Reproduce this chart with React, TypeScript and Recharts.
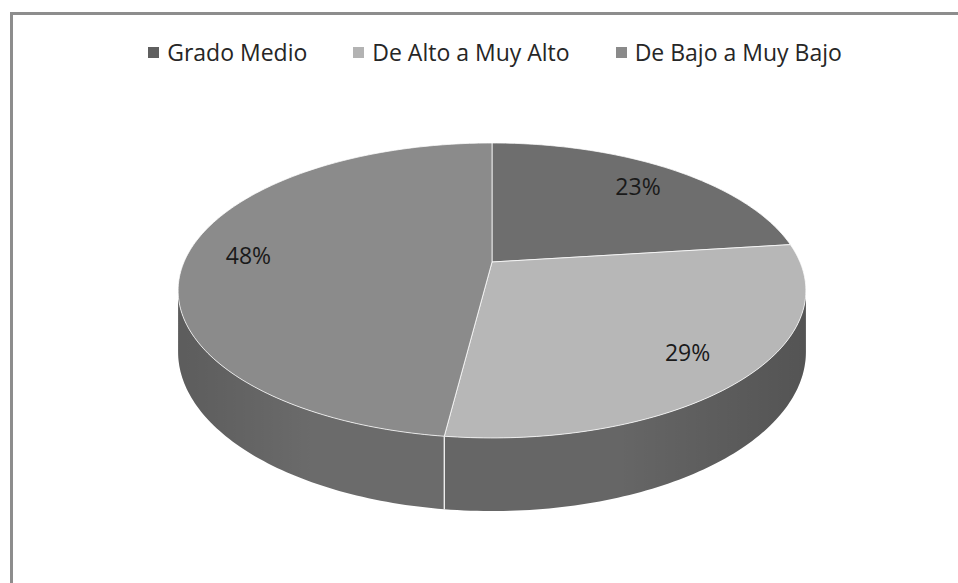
import { Cell, Legend, Pie, PieChart } from "recharts";

const categories = ["Grado Medio", "De Alto a Muy Alto", "De Bajo a Muy Bajo"];
const shares = [23, 29, 48];
const topColors = ["#6e6e6e", "#b7b7b7", "#8b8b8b"];
const sideColors = ["#5c5c5c", "#666666", "#6b6b6b"];
const legendColors = ["#5f5f5f", "#b3b3b3", "#8a8a8a"];

const data = categories.map((name, i) => ({ name, value: shares[i] }));

const WIDTH = 958;
const HEIGHT = 583;
const CX = 492;
const CY = 262;
const RADIUS = 308;
// fake 3d: vertical squash, perspective strength, wall height
const TILT = 0.461;
const PERSP = 0.193;
const DEPTH = 59;
const FONT = '"Open Sans", sans-serif';

const project = (cx: number, cy: number, R: number, theta: number, r = 1, drop = 0) => {
  const t = (theta * Math.PI) / 180;
  const u = r * Math.sin(t);
  const v = -r * Math.cos(t);
  const w = 1 - PERSP * v;
  return [cx + (R * u) / w, cy + (R * TILT * v + drop) / w];
};

const arc = (cx: number, cy: number, R: number, a: number, b: number, drop = 0) => {
  const steps = Math.max(2, Math.ceil(Math.abs(b - a)));
  const pts: number[][] = [];
  for (let s = 0; s <= steps; s++) {
    pts.push(project(cx, cy, R, a + ((b - a) * s) / steps, 1, drop));
  }
  return pts;
};

const toPath = (pts: number[][]) =>
  pts.map((p, i) => `${i ? "L" : "M"}${p[0].toFixed(2)},${p[1].toFixed(2)}`).join("") + "Z";

const SILHOUETTE = (Math.acos(-PERSP) * 180) / Math.PI;

const PieSlice = (props: any) => {
  const { cx, cy, outerRadius, startAngle, endAngle, fill } = props;
  const i = categories.indexOf(props.name ?? props.payload?.name);
  const t1 = 90 - startAngle;
  const t2 = 90 - endAngle;
  const top = [[cx, cy], ...arc(cx, cy, outerRadius, t1, t2)];
  const a = Math.max(t1, SILHOUETTE);
  const b = Math.min(t2, 360 - SILHOUETTE);
  let side = null;
  let edge = null;
  if (a < b) {
    const pts = [...arc(cx, cy, outerRadius, a, b), ...arc(cx, cy, outerRadius, b, a, DEPTH)];
    side = <path d={toPath(pts)} fill={sideColors[i]} stroke="none" />;
    if (t1 > SILHOUETTE) {
      const p = project(cx, cy, outerRadius, t1);
      const q = project(cx, cy, outerRadius, t1, 1, DEPTH);
      edge = <line x1={p[0]} y1={p[1]} x2={q[0]} y2={q[1]} stroke="#ffffff" strokeWidth={1.2} />;
    }
  }
  return (
    <g>
      {side}
      {side && <path d={side.props.d} fill="url(#wall-shade)" stroke="none" />}
      {edge}
      <path d={toPath(top)} fill={fill} stroke="rgba(255,255,255,0.75)" strokeWidth={1} />
    </g>
  );
};

const renderLabel = (props: any) => {
  const { cx, cy, midAngle, percent } = props;
  const [x, y] = project(cx, cy, RADIUS, 90 - midAngle, 0.8);
  return (
    <text
      x={x}
      y={y}
      textAnchor="middle"
      dominantBaseline="central"
      fill="#1a1a1a"
      fontFamily={FONT}
      fontSize={23}
    >
      {`${Math.round(percent * 100)}%`}
    </text>
  );
};

const renderLegend = (props: any) => {
  const items = categories.filter((c) => (props.payload || []).some((e: any) => e.value === c));
  return (
    <div style={{ display: "flex", justifyContent: "center", gap: 46, fontFamily: FONT, fontSize: 23, color: "#262626" }}>
      {items.map((name) => (
        <div key={name} style={{ display: "flex", alignItems: "center", gap: 8 }}>
          <span
            style={{
              display: "inline-block",
              width: 11,
              height: 11,
              background: legendColors[categories.indexOf(name)],
            }}
          />
          <span>{name}</span>
        </div>
      ))}
    </div>
  );
};

export default function App() {
  return (
    <div
      style={{
        position: "absolute",
        left: 0,
        top: 0,
        width: WIDTH,
        height: HEIGHT,
        overflow: "hidden",
        background: "#ffffff",
      }}
    >
      <div
        style={{
          position: "absolute",
          left: 10,
          top: 12,
          width: 980,
          height: 600,
          border: "3px solid #8d8d8d",
          boxSizing: "border-box",
        }}
      />
      <PieChart
        width={WIDTH}
        height={HEIGHT}
        margin={{ top: 0, right: 0, bottom: 0, left: 0 }}
        style={{ position: "absolute", left: 0, top: 0 }}
      >
        <defs>
          <linearGradient id="wall-shade" gradientUnits="userSpaceOnUse" x1={CX - RADIUS - 8} y1="0" x2={CX + RADIUS + 8} y2="0">
            <stop offset="0%" stopColor="#000000" stopOpacity={0.14} />
            <stop offset="22%" stopColor="#000000" stopOpacity={0} />
            <stop offset="70%" stopColor="#000000" stopOpacity={0} />
            <stop offset="100%" stopColor="#000000" stopOpacity={0.18} />
          </linearGradient>
        </defs>
        <Legend
          verticalAlign="middle"
          layout="horizontal"
          content={renderLegend}
          wrapperStyle={{ top: 36, left: 16, width: WIDTH }}
        />
        <Pie
          data={data}
          dataKey="value"
          nameKey="name"
          cx={CX}
          cy={CY}
          outerRadius={RADIUS}
          startAngle={90}
          endAngle={-270}
          shape={PieSlice}
          label={renderLabel}
          labelLine={false}
          stroke="none"
          isAnimationActive={false}
        >
          {data.map((d, i) => (
            <Cell key={d.name} fill={topColors[i]} />
          ))}
        </Pie>
      </PieChart>
    </div>
  );
}
